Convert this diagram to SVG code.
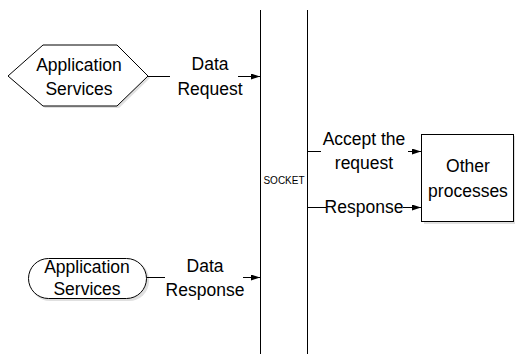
<svg xmlns="http://www.w3.org/2000/svg" width="515" height="354" viewBox="0 0 515 354">
  <style>
    .shape { fill: #ffffff; stroke: #000000; stroke-width: 1; }
    .shadow { fill: #e0e0e0; stroke: none; }
    .line { fill: none; stroke: #000000; stroke-width: 1; }
    .label { font-family: "Liberation Sans", Arial, sans-serif; font-size: 17.5px; fill: #000000; text-anchor: middle; }
    .small { font-family: "Liberation Sans", Arial, sans-serif; font-size: 10px; fill: #000000; text-anchor: middle; }
  </style>
  <defs>
    <marker id="arrow" markerWidth="9" markerHeight="6" refX="9" refY="3" orient="auto" markerUnits="userSpaceOnUse">
      <path d="M0,0 L9,3 L0,6 Z" fill="#000000"/>
    </marker>
  </defs>
  <rect width="515" height="354" fill="#ffffff"/>

  <!-- socket boundary lines -->
  <g id="socket">
    <line class="line" x1="260.5" y1="10" x2="260.5" y2="354"/>
    <line class="line" x1="307.5" y1="10" x2="307.5" y2="354"/>
    <text class="small" x="284" y="184">SOCKET</text>
  </g>

  <!-- client requesting data -->
  <g id="app-services-request">
    <polygon class="shadow" points="10,78 45,47 119,47 150,78 119,108 45,108"/>
    <polygon class="shape" points="8,76 43,45 117,45 148,76 117,106 43,106"/>
    <text class="label" x="79" y="71">Application</text>
    <text class="label" x="79" y="95">Services</text>
  </g>

  <!-- client receiving data -->
  <g id="app-services-response">
    <rect class="shadow" x="30" y="260" width="119" height="41" rx="20" ry="20"/>
    <rect class="shape" x="28.5" y="258.5" width="118" height="40" rx="20" ry="20"/>
    <text class="label" x="87" y="273">Application</text>
    <text class="label" x="87" y="295">Services</text>
  </g>

  <!-- server side -->
  <g id="other-processes">
    <rect class="shadow" x="424" y="136" width="92" height="88"/>
    <rect class="shape" x="421.5" y="134.5" width="92" height="87"/>
    <text class="label" x="468" y="172">Other</text>
    <text class="label" x="468" y="197">processes</text>
  </g>

  <g id="connectors">
    <!-- Data Request -->
    <line class="line" x1="148" y1="76.5" x2="170" y2="76.5"/>
    <line class="line" x1="238" y1="76.5" x2="260" y2="76.5" marker-end="url(#arrow)"/>
    <text class="label" x="210" y="70">Data</text>
    <text class="label" x="210" y="95">Request</text>

    <!-- Data Response -->
    <line class="line" x1="147" y1="277.5" x2="165" y2="277.5"/>
    <line class="line" x1="243" y1="277.5" x2="260" y2="277.5" marker-end="url(#arrow)"/>
    <text class="label" x="205" y="272">Data</text>
    <text class="label" x="205" y="296">Response</text>

    <!-- Accept the request -->
    <line class="line" x1="308" y1="151.5" x2="321" y2="151.5"/>
    <line class="line" x1="408" y1="151.5" x2="421" y2="151.5" marker-end="url(#arrow)"/>
    <text class="label" x="364" y="145">Accept the</text>
    <text class="label" x="364" y="169">request</text>

    <!-- Response -->
    <line class="line" x1="308" y1="207.5" x2="326" y2="207.5"/>
    <line class="line" x1="403" y1="207.5" x2="421" y2="207.5" marker-end="url(#arrow)"/>
    <text class="label" x="364" y="213">Response</text>
  </g>
</svg>
